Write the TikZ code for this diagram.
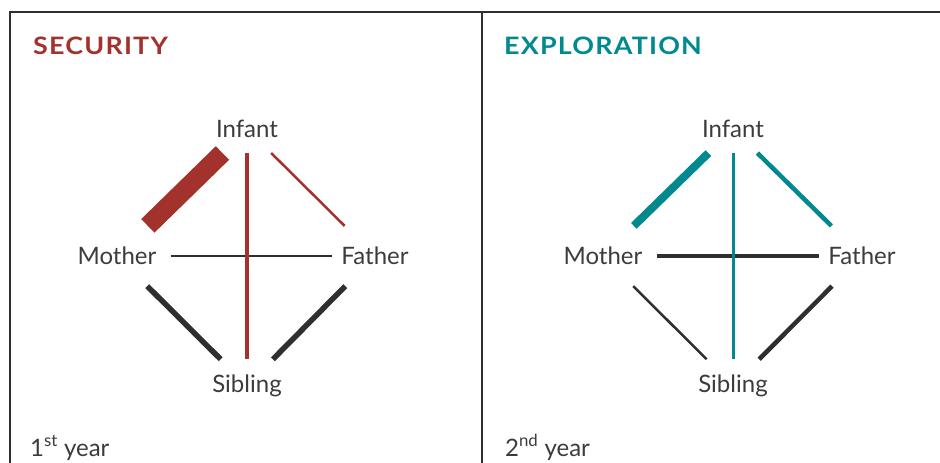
\documentclass[tikz,border=0pt]{standalone}
\usepackage{fontspec}
\setmainfont{Lato}
\usepackage{tikz}
\usetikzlibrary{positioning}
\definecolor{secred}{HTML}{A3322D}
\definecolor{expteal}{HTML}{008A8F}
\definecolor{tiegray}{HTML}{2F2F2F}
\definecolor{textgray}{HTML}{3C3C3C}

\tikzset{
  heading/.style={font=\fontsize{24}{26}\selectfont\bfseries\addfontfeatures{FakeStretch=1.12,LetterSpace=5},
    anchor=base west,inner sep=0pt},
  member/.style={font=\fontsize{24}{26}\selectfont,text=textgray,inner ysep=15pt},
  sidemember/.style={member,inner ysep=21pt},
  yearlabel/.style={font=\fontsize{24}{26}\selectfont,text=textgray,anchor=base west,inner sep=0pt}
}

\begin{document}
\begin{tikzpicture}[x=1pt,y=-1pt]
  \useasboundingbox (0,0) rectangle (940,463);
  % frame and divider
  \draw[tiegray,line width=1.4pt] (10,463)--(10,12)--(940,12);
  \draw[tiegray,line width=1.4pt] (482,12)--(482,463);
  % left panel: security, 1st year
  \node[heading,text=secred] (sechead) at (33,54){SECURITY};
  \node[member] (inf1) at (247,129){Infant};
  \node[sidemember,inner xsep=14pt] (mot1) at (117,256){Mother};
  \node[sidemember,inner xsep=9pt] (fat1) at (375,256){Father};
  \node[member] (sib1) at (247,385.5){Sibling};
  \draw[tiegray,line width=2.5pt] (mot1)--(fat1);
  \draw[secred,line width=4.5pt] (inf1)--(sib1);
  \draw[secred,line width=19pt] (inf1)--(mot1);
  \draw[secred,line width=2.5pt] (inf1)--(fat1);
  \draw[tiegray,line width=5.5pt] (mot1)--(sib1);
  \draw[tiegray,line width=5.5pt] (fat1)--(sib1);
  \node[yearlabel] (year1) at (30,456){1\textsuperscript{st} year};
  % right panel: exploration, 2nd year
  \begin{scope}[xshift=486pt]
    \node[heading,text=expteal] (exphead) at (18,54){EXPLORATION};
    \node[member] (inf2) at (247,129){Infant};
    \node[sidemember,inner xsep=14pt] (mot2) at (117,256){Mother};
    \node[sidemember,inner xsep=9pt] (fat2) at (376,256){Father};
    \node[member] (sib2) at (247,385.5){Sibling};
    \draw[tiegray,line width=3.5pt] (mot2)--(fat2);
    \draw[expteal,line width=3pt] (inf2)--(sib2);
    \draw[expteal,line width=8pt] (inf2)--(mot2);
    \draw[expteal,line width=4.5pt] (inf2)--(fat2);
    \draw[tiegray,line width=2.5pt] (mot2)--(sib2);
    \draw[tiegray,line width=4.5pt] (fat2)--(sib2);
    \node[yearlabel] (year2) at (19,456){2\textsuperscript{nd} year};
  \end{scope}
\end{tikzpicture}
\end{document}
